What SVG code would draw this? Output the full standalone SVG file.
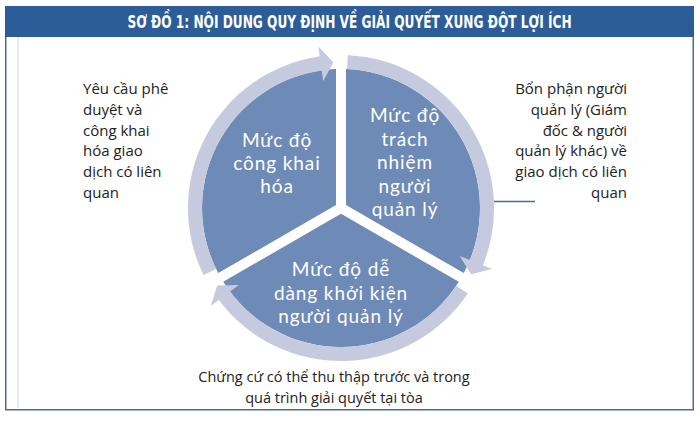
<svg xmlns="http://www.w3.org/2000/svg" width="700" height="429" viewBox="0 0 700 429">
<style>
.sector{fill:#6e8ab6}
.ring{fill:#c6cade}
.st{font-family:Lato,"Open Sans","Liberation Sans",sans-serif;font-size:19px;letter-spacing:0.9px;fill:#ffffff;text-anchor:middle}
.note{font-family:"Open Sans","Liberation Sans",sans-serif;font-size:15px;fill:#222222}
.title{font-family:"Liberation Sans Narrow","DejaVu Sans Condensed","Liberation Sans",sans-serif;font-size:18px;font-weight:bold;fill:#ffffff;text-anchor:middle}
</style>
<rect x="0" y="0" width="700" height="429" fill="#ffffff"/>
<g id="frame">
<rect x="5.75" y="6.75" width="687.5" height="403" fill="#ffffff" stroke="#4a6a98" stroke-width="1.5"/>
<rect x="5" y="6" width="689" height="31" fill="#2d5d98"/>
<line x1="18" y1="37" x2="18" y2="408" stroke="#d4d4d4" stroke-width="1"/>
<text class="title" transform="translate(349.5,28) scale(0.752,1)" x="0" y="0">SƠ ĐỒ 1: NỘI DUNG QUY ĐỊNH VỀ GIẢI QUYẾT XUNG ĐỘT LỢI ÍCH</text>
</g>
<g id="node-left">
<path class="sector" d="M336,205.1 L218.2,273.1 A139,139 0 0 1 336,69.1 Z"/>
<text class="st" x="277"><tspan x="277" y="147">Mức độ</tspan><tspan x="277" y="170">công khai</tspan><tspan x="277" y="193">hóa</tspan></text>
</g>
<g id="node-right">
<path class="sector" d="M346,205.1 L346,69.1 A139,139 0 0 1 463.8,273.1 Z"/>
<text class="st" x="405"><tspan x="405" y="122">Mức độ</tspan><tspan x="405" y="145.5">trách</tspan><tspan x="405" y="169">nhiệm</tspan><tspan x="405" y="192.5">người</tspan><tspan x="405" y="216">quản lý</tspan></text>
</g>
<g id="node-bottom">
<path class="sector" d="M341,213.8 L458.8,281.8 A139,139 0 0 1 223.2,281.8 Z"/>
<text class="st" x="341"><tspan x="341" y="276">Mức độ dễ</tspan><tspan x="341" y="299.5">dàng khởi kiện</tspan><tspan x="341" y="323">người quản lý</tspan></text>
</g>
<g id="connectors">
<path class="ring" d="M203.5,275.1 A153,153 0 0 1 319.7,56.5 L318.3,46.6 L333.4,62.2 L323.2,81.2 L321.7,70.4 A139,139 0 0 0 216.1,268.9 Z"/>
<path class="ring" d="M347.7,55.2 A153,153 0 0 1 482.9,265.3 L492.1,269.1 L471.1,274.3 L459.7,255.9 L469.9,260.1 A139,139 0 0 0 347.1,69.1 Z"/>
<path class="ring" d="M467.8,293.6 A153,153 0 0 1 218.8,300.1 L210.8,306.1 L217.2,285.4 L238.8,285 L230,291.7 A139,139 0 0 0 456.2,285.7 Z"/>
<line x1="494" y1="201.5" x2="535" y2="201.5" stroke="#4a6c9c" stroke-width="1.3"/>
</g>
<g id="note-left">
<text class="note"><tspan x="83" y="94">Yêu cầu phê</tspan><tspan x="83" y="114.8">duyệt và</tspan><tspan x="83" y="135.6">công khai</tspan><tspan x="83" y="156.4">hóa giao</tspan><tspan x="83" y="177.2">dịch có liên</tspan><tspan x="83" y="198">quan</tspan></text>
</g>
<g id="note-right">
<text class="note" text-anchor="end"><tspan x="627" y="94">Bổn phận người</tspan><tspan x="627" y="114.8">quản lý (Giám</tspan><tspan x="627" y="135.6">đốc &amp; người</tspan><tspan x="627" y="156.4">quản lý khác) về</tspan><tspan x="627" y="177.2">giao dịch có liên</tspan><tspan x="627" y="198">quan</tspan></text>
</g>
<g id="note-bottom">
<text class="note" text-anchor="middle" style="font-size:14.5px"><tspan x="334" y="382">Chứng cứ có thể thu thập trước và trong</tspan><tspan x="334" y="402.5">quá trình giải quyết tại tòa</tspan></text>
</g>
</svg>
